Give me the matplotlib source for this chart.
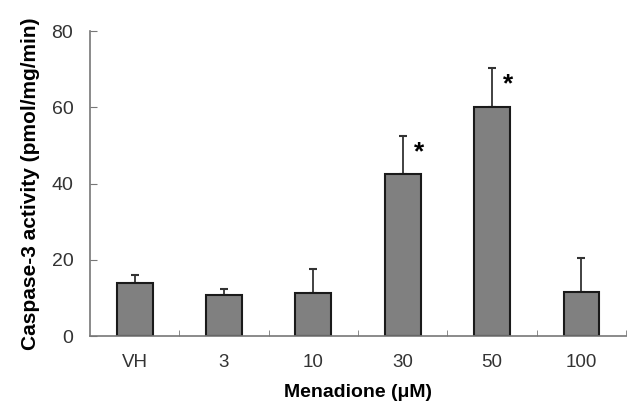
import matplotlib.pyplot as plt
import numpy as np

# data
doses = ["VH", "3", "10", "30", "50", "100"]
activity = [13.9, 10.8, 11.3, 42.5, 60.1, 11.5]
err_up = [2.1, 1.6, 6.2, 10.0, 10.3, 9.0]
significant = [False, False, False, True, True, False]

plt.rcParams["font.family"] = ["Liberation Sans", "DejaVu Sans"]

fig = plt.figure(figsize=(6.27, 4.03), dpi=100)
ax = fig.add_axes([0.1435, 0.166, 0.855, 0.757])

x = np.arange(len(doses))
ax.bar(x, activity, width=0.4, color="#808080", edgecolor="#1a1a1a",
       linewidth=1.5, zorder=2)
ax.errorbar(x, activity, yerr=[np.zeros(len(err_up)), err_up], fmt="none",
            ecolor="#333333", elinewidth=1.3, capsize=3, capthick=1.5, zorder=1)

# significance stars
for i, s in enumerate(significant):
    if s:
        ax.text(x[i] + 0.18, activity[i] + err_up[i] - 7.5, "*",
                fontsize=19, fontweight="bold", ha="center", va="bottom")

ax.set_xlim(-0.5, len(doses) - 0.5)
ax.set_ylim(0, 80)
ax.set_yticks([0, 20, 40, 60, 80])
ax.set_xticks(x)
ax.set_xticklabels(doses)
ax.set_xticks(x + 0.5, minor=True)

ax.spines["top"].set_visible(False)
ax.spines["right"].set_visible(False)
for s in ["left", "bottom"]:
    ax.spines[s].set_color("#777777")
    ax.spines[s].set_linewidth(1.2)

ax.tick_params(axis="y", direction="in", length=5, color="#777777",
               labelsize=14, labelcolor="#333333", pad=12)
ax.tick_params(axis="x", which="major", length=0, labelsize=13.5,
               labelcolor="#333333", pad=13)
ax.tick_params(axis="x", which="minor", direction="in", length=4,
               color="#777777")

ax.set_xlabel("Menadione (\u03bcM)", fontsize=14, fontweight="bold",
              labelpad=9)
ax.set_ylabel("Caspase-3 activity (pmol/mg/min)", fontsize=15,
              fontweight="bold", labelpad=8)

fig.savefig("out.png", dpi=100)
